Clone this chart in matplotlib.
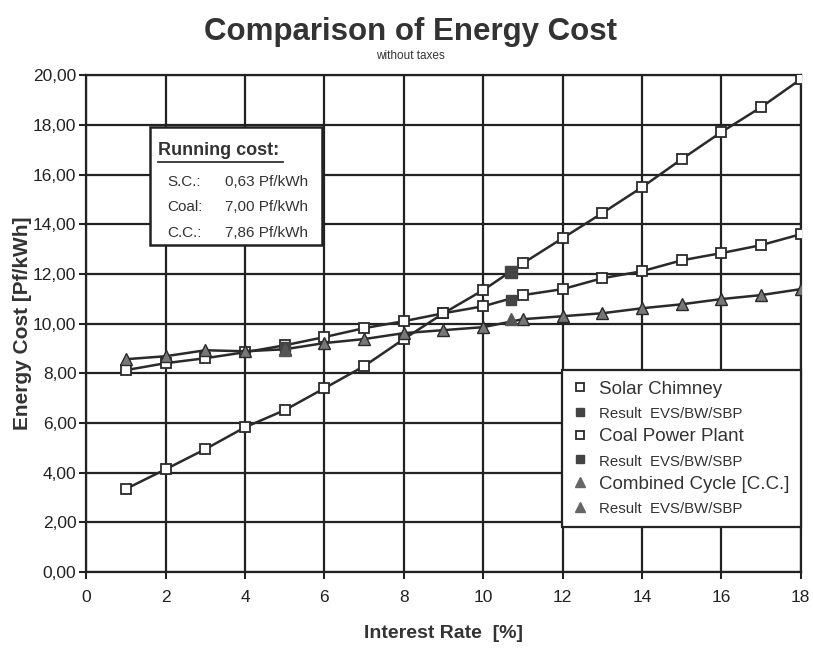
import matplotlib
matplotlib.use("Agg")
import matplotlib.pyplot as plt
from matplotlib.lines import Line2D
from matplotlib.patches import Rectangle
from matplotlib.ticker import FuncFormatter

plt.rcParams["font.family"] = ["Liberation Sans", "DejaVu Sans"]

# interest rate [%]
rate = [1, 2, 3, 4, 5, 6, 7, 8, 9, 10, 11, 12, 13, 14, 15, 16, 17, 18]
solar = [3.35, 4.14, 4.95, 5.83, 6.52, 7.40, 8.29, 9.38, 10.42, 11.35,
         12.43, 13.44, 14.45, 15.49, 16.62, 17.71, 18.71, 19.84]
coal = [8.13, 8.41, 8.61, 8.85, 9.13, 9.46, 9.82, 10.10, 10.42, 10.70,
        11.15, 11.39, 11.83, 12.11, 12.55, 12.84, 13.16, 13.60]
cc = [8.57, 8.69, 8.93, 8.89, 8.97, 9.22, 9.38, 9.62, 9.74, 9.86,
      10.18, 10.30, 10.42, 10.62, 10.78, 10.99, 11.15, 11.39]

# results EVS/BW/SBP
solar_res_x = [10.7]
solar_res_y = [12.07]
coal_res_x = [5, 10.7]
coal_res_y = [9.05, 10.95]
cc_res_x = [5, 10.7]
cc_res_y = [8.95, 10.18]

running = [("S.C.:", "0,63 Pf/kWh"), ("Coal:", "7,00 Pf/kWh"), ("C.C.:", "7,86 Pf/kWh")]

fig = plt.figure(figsize=(8.13, 6.48), dpi=100)
ax = fig.add_axes([0.106, 0.117, 0.879, 0.767])

lc = "#2a2a2a"
ax.plot(rate, solar, color=lc, lw=1.8, marker="s", ms=7, mfc="white", mec=lc, mew=1.3, zorder=3)
ax.plot(rate, coal, color=lc, lw=1.8, marker="s", ms=7, mfc="white", mec=lc, mew=1.3, zorder=3)
ax.plot(rate, cc, color=lc, lw=1.8, marker="^", ms=8, mfc="#777777", mec=lc, mew=1.0, zorder=3)
ax.plot(solar_res_x, solar_res_y, ls="none", marker="s", ms=8, color="#444444", zorder=4)
ax.plot(coal_res_x, coal_res_y, ls="none", marker="s", ms=7, color="#444444", zorder=4)
ax.plot(cc_res_x, cc_res_y, ls="none", marker="^", ms=8, color="#555555", zorder=4)

ax.set_xlim(0, 18)
ax.set_ylim(0, 20)
ax.set_xticks(range(0, 19, 2))
ax.set_yticks(range(0, 21, 2))
ax.yaxis.set_major_formatter(FuncFormatter(lambda v, p: f"{v:.2f}".replace(".", ",")))
ax.tick_params(direction="out", length=5, width=1.5, labelsize=12.5, colors="#222222")
ax.tick_params(axis="x", pad=8)
ax.tick_params(axis="y", pad=2)
ax.grid(True, color="#222222", lw=1.6)
for s in ax.spines.values():
    s.set_color("#222222")
    s.set_linewidth(1.6)

ax.set_xlabel("Interest Rate  [%]", fontsize=14, fontweight="bold", color="#333333", labelpad=14)
ax.set_ylabel("Energy Cost [Pf/kWh]", fontsize=15, fontweight="bold", color="#333333", labelpad=1)

fig.text(0.505, 0.95, "Comparison of Energy Cost", ha="center", va="center",
         fontsize=22.5, fontweight="bold", color="#333333")
fig.text(0.505, 0.913, "without taxes", ha="center", va="center", fontsize=8.5, color="#333333")

# running cost box
ax.add_patch(Rectangle((0.0895, 0.658), 0.2405, 0.237, transform=ax.transAxes,
                       facecolor="white", edgecolor="#222222", lw=1.8, zorder=5))
ax.text(0.1007, 0.849, "Running cost:", transform=ax.transAxes, fontsize=13,
        fontweight="bold", color="#333333", va="center", zorder=6)
ax.plot([0.1007, 0.276], [0.826, 0.826], transform=ax.transAxes, color="#333333", lw=1.3, zorder=6)
for i, (k, v) in enumerate(running):
    y = 0.785 - i * 0.051
    ax.text(0.113, y, k, transform=ax.transAxes, fontsize=11, color="#333333", va="center", zorder=6)
    ax.text(0.310, y, v, transform=ax.transAxes, fontsize=11, color="#333333", va="center", ha="right", zorder=6)

# legend
handles = [
    Line2D([], [], ls="none", marker="s", ms=6, mfc="white", mec=lc, mew=1.3),
    Line2D([], [], ls="none", marker="s", ms=6, color="#444444"),
    Line2D([], [], ls="none", marker="s", ms=6, mfc="white", mec=lc, mew=1.3),
    Line2D([], [], ls="none", marker="s", ms=6, color="#444444"),
    Line2D([], [], ls="none", marker="^", ms=7, color="#666666"),
    Line2D([], [], ls="none", marker="^", ms=7, color="#666666"),
]
labels = ["Solar Chimney", "Result  EVS/BW/SBP", "Coal Power Plant", "Result  EVS/BW/SBP",
          "Combined Cycle [C.C.]", "Result  EVS/BW/SBP"]
leg = ax.legend(handles, labels, loc="lower right", bbox_to_anchor=(1.0, 0.09),
                borderaxespad=0, fancybox=False, framealpha=1, edgecolor="#222222",
                handlelength=0.8, handletextpad=0.6, borderpad=0.6, labelspacing=0.38,
                fontsize=13.5)
leg.get_frame().set_linewidth(1.6)
leg.set_zorder(6)
for i, t in enumerate(leg.get_texts()):
    t.set_color("#333333")
    if i % 2 == 1:
        t.set_fontsize(10.8)

fig.savefig("out.png", dpi=100, facecolor="white")
